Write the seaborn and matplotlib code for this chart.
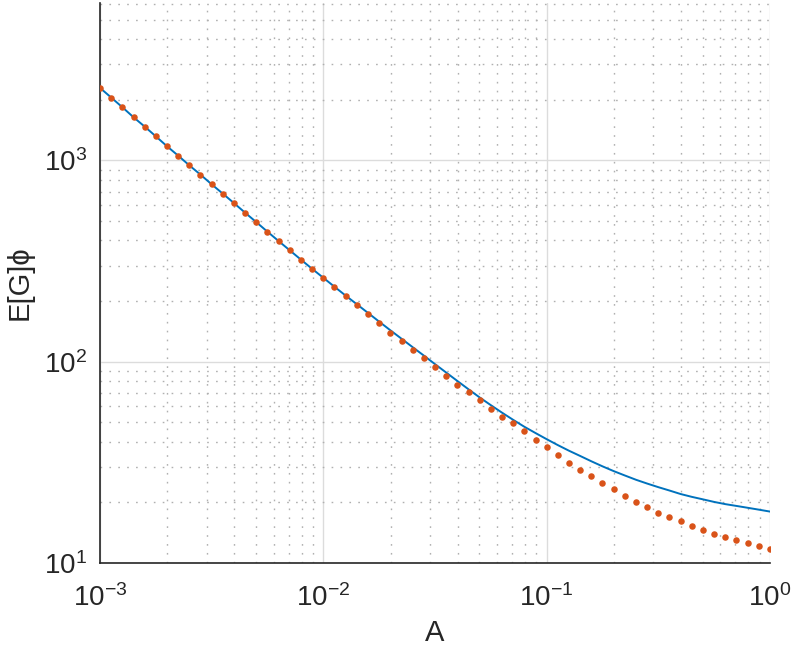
import matplotlib
matplotlib.use("Agg")
import matplotlib.pyplot as plt
import seaborn as sns
import numpy as np
import pandas as pd
from matplotlib.ticker import LogLocator, FixedLocator, NullFormatter

# sample points along A (log-spaced, 61 points)
A = [0.001, 0.001122, 0.001259, 0.001413, 0.001585, 0.001778, 0.001995, 0.002239, 0.002512, 0.002818,
     0.003162, 0.003548, 0.003981, 0.004467, 0.005012, 0.005623, 0.006310, 0.007079, 0.007943, 0.008913,
     0.01, 0.01122, 0.01259, 0.01413, 0.01585, 0.01778, 0.01995, 0.02239, 0.02512, 0.02818,
     0.03162, 0.03548, 0.03981, 0.04467, 0.05012, 0.05623, 0.06310, 0.07079, 0.07943, 0.08913,
     0.1, 0.1122, 0.1259, 0.1413, 0.1585, 0.1778, 0.1995, 0.2239, 0.2512, 0.2818,
     0.3162, 0.3548, 0.3981, 0.4467, 0.5012, 0.5623, 0.6310, 0.7079, 0.7943, 0.8913, 1.0]

# blue curve
EG_line = [2291, 2051, 1836, 1637, 1471, 1316, 1175, 1055, 944, 849,
           760, 683, 613, 549, 493, 442, 397, 357, 321, 289,
           261, 235.5, 212.8, 192.8, 174.6, 158.1, 143.2, 130.0, 118.0, 107.2,
           97.2, 88.3, 80.2, 72.9, 66.4, 60.8, 55.8, 51.4, 47.5, 44.2,
           41.2, 38.5, 36.1, 34.0, 32.0, 30.2, 28.6, 27.2, 25.9, 24.8,
           23.8, 22.9, 22.0, 21.3, 20.7, 20.1, 19.6, 19.2, 18.8, 18.4, 18.0]

# red dots
EG_dots = [2291, 2051, 1836, 1637, 1471, 1316, 1175, 1055, 944, 849,
           760, 683, 613, 549, 493, 442, 397, 357, 321, 289,
           261, 234, 211, 191, 172, 155, 139, 127, 114, 104,
           94.1, 84.9, 76.9, 70.7, 64.2, 58.2, 53.1, 49.3, 45.0, 40.9,
           37.5, 34.4, 31.4, 29.0, 26.9, 24.9, 23.2, 21.5, 20.1, 19.0,
           17.8, 16.9, 16.1, 15.2, 14.5, 14.0, 13.5, 13.0, 12.5, 12.1, 11.7]

x_labels = [r'$\mathregular{10^{-3}}$', r'$\mathregular{10^{-2}}$',
            r'$\mathregular{10^{-1}}$', r'$\mathregular{10^{0}}$']
y_labels = [r'$\mathregular{10^{1}}$', r'$\mathregular{10^{2}}$', r'$\mathregular{10^{3}}$']

df = pd.DataFrame({'A': A, 'line': EG_line, 'dots': EG_dots})

sns.set_style("white")
plt.rcParams['font.family'] = ['Liberation Sans', 'DejaVu Sans']
plt.rcParams['mathtext.fontset'] = 'custom'
plt.rcParams['mathtext.rm'] = 'Liberation Sans'
plt.rcParams['mathtext.it'] = 'Liberation Sans:italic'

fig = plt.figure(figsize=(7.93, 6.55), dpi=100)
ax = fig.add_axes([0.1261, 0.1405, 0.8449, 0.855])

sns.lineplot(data=df, x='A', y='line', color='#0072BD', linewidth=1.4, ax=ax, zorder=3)
sns.scatterplot(data=df, x='A', y='dots', color='#D95319', s=22, linewidth=0, ax=ax, zorder=4)

ax.set_xscale('log')
ax.set_yscale('log')
ax.set_xlim(1e-3, 1)
ax.set_ylim(10, 6050)

ax.xaxis.set_major_locator(FixedLocator([1e-3, 1e-2, 1e-1, 1]))
ax.yaxis.set_major_locator(FixedLocator([10, 100, 1000]))
ax.xaxis.set_minor_locator(LogLocator(base=10, subs=np.arange(2, 10), numticks=20))
ax.yaxis.set_minor_locator(LogLocator(base=10, subs=np.arange(2, 10), numticks=20))
ax.xaxis.set_minor_formatter(NullFormatter())
ax.yaxis.set_minor_formatter(NullFormatter())
ax.set_xticklabels(x_labels)
ax.set_yticklabels(y_labels)

# MATLAB-like grid: solid light major, dotted minor
ax.grid(which='major', color='#dcdcdc', linewidth=1.0, linestyle='-')
ax.grid(which='minor', color='#b0b0b0', linewidth=1.0, linestyle=(0, (1.2, 5.2)))
ax.set_axisbelow(True)

for s in ['top', 'right']:
    ax.spines[s].set_visible(False)
for s in ['left', 'bottom']:
    ax.spines[s].set_color('#262626')
    ax.spines[s].set_linewidth(1.2)

ax.tick_params(which='major', direction='in', length=5, width=1, color='#262626',
               labelsize=20, labelcolor='#262626')
ax.tick_params(axis='x', which='major', pad=15)
ax.tick_params(axis='y', which='major', pad=9)
ax.tick_params(which='minor', direction='in', length=3, width=1, color='#262626')

ax.set_xlabel('A', fontsize=21, color='#262626', labelpad=5)
ax.set_ylabel('E[G]ϕ', fontsize=21, color='#262626', labelpad=8)

fig.savefig('out.png', dpi=100)
